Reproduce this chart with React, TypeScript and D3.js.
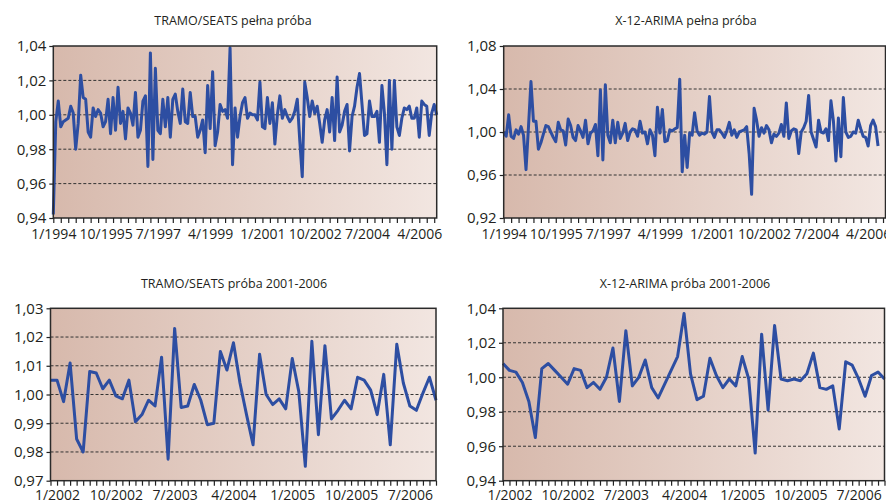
import { useEffect, useRef } from 'react';
import * as d3 from 'd3';

// TRAMO/SEATS, full sample 1/1994 - 11/2006
const tsFull = [
  0.942, 0.996, 1.008, 0.993, 0.996, 0.997, 0.998, 1.005, 1.001, 0.980,
  0.995, 1.023, 1.010, 1.009, 0.990, 0.987, 1.004, 0.999, 1.003, 1.001,
  0.993, 0.996, 1.009, 0.989, 1.010, 0.991, 1.016, 0.995, 1.002, 0.986,
  1.004, 1.001, 0.994, 1.013, 0.987, 0.991, 1.008, 1.011, 0.970, 1.036,
  0.974, 1.027, 0.991, 0.989, 1.009, 0.993, 1.010, 0.987, 1.009, 1.012,
  1.002, 0.995, 1.015, 0.996, 0.995, 1.013, 0.999, 0.999, 0.987, 0.991,
  0.997, 0.978, 1.017, 0.992, 1.025, 0.982, 0.990, 1.006, 1.002, 1.003,
  0.998, 1.039, 0.971, 1.004, 0.987, 0.999, 1.007, 1.010, 0.998, 1.001,
  1.000, 1.000, 0.997, 1.019, 0.993, 0.992, 1.010, 0.995, 1.007, 0.983,
  1.000, 1.011, 0.998, 1.003, 0.999, 0.996, 0.998, 1.002, 1.009, 0.985,
  0.964, 1.019, 1.010, 0.999, 1.008, 1.001, 1.005, 0.995, 0.984, 0.997,
  1.003, 0.990, 1.010, 0.985, 1.022, 0.990, 0.994, 1.002, 1.006, 0.979,
  0.999, 1.005, 1.016, 1.024, 1.006, 0.988, 0.989, 1.008, 0.999, 0.999,
  1.002, 0.984, 1.017, 1.001, 0.971, 1.020, 0.980, 1.020, 0.993, 0.988,
  0.998, 1.004, 1.003, 1.005, 0.998, 0.998, 1.004, 0.987, 1.008, 1.006,
  1.005, 0.988, 1.001, 1.006, 1.000,
];

// X-12-ARIMA, full sample
const x12Full = [
  1.000, 0.996, 1.016, 0.996, 0.994, 1.002, 0.998, 1.005, 0.997, 0.965,
  1.005, 1.047, 1.010, 1.010, 0.984, 0.990, 0.998, 1.006, 1.005, 1.000,
  0.995, 0.991, 1.009, 1.002, 1.001, 0.988, 1.012, 1.006, 0.995, 0.992,
  1.006, 1.001, 0.995, 1.011, 0.989, 0.999, 1.001, 1.007, 0.978, 1.039,
  0.974, 1.044, 0.997, 0.990, 1.011, 0.990, 1.009, 0.994, 0.999, 1.008,
  0.992, 1.000, 1.003, 1.002, 0.996, 1.010, 0.999, 1.000, 0.989, 1.002,
  0.997, 0.978, 1.023, 0.999, 1.021, 0.991, 0.992, 1.002, 1.001, 1.003,
  1.004, 1.049, 0.963, 0.997, 0.967, 0.999, 0.997, 1.018, 1.001, 0.997,
  0.999, 0.998, 1.000, 1.033, 1.000, 0.995, 1.002, 1.002, 0.999, 0.995,
  1.001, 1.009, 0.997, 1.002, 0.995, 1.000, 1.001, 1.002, 1.005, 0.980,
  0.942, 1.022, 1.011, 0.996, 1.004, 0.999, 1.006, 1.002, 0.990, 0.998,
  0.996, 0.999, 1.007, 0.996, 1.027, 0.994, 1.001, 1.003, 1.002, 0.980,
  1.000, 1.004, 1.010, 1.034, 1.000, 0.993, 0.986, 1.011, 1.000, 0.999,
  1.003, 0.992, 1.029, 1.010, 0.973, 1.013, 0.977, 1.032, 1.000, 0.995,
  0.996, 1.000, 0.999, 1.011, 1.003, 0.996, 0.995, 0.987, 1.006, 1.011,
  1.005, 0.987,
];

// TRAMO/SEATS, sample 2001-2006 (12/2001 - 11/2006)
const tsShort = [
  1.005, 1.005, 0.9975, 1.011, 0.9845, 0.980, 1.008, 1.0075, 1.002, 1.005,
  0.9995, 0.9985, 1.005, 0.9905, 0.993, 0.998, 0.996, 1.013, 0.9775, 1.023,
  0.9955, 0.996, 1.0035, 0.998, 0.9895, 0.990, 1.015, 1.0085, 1.018, 1.004,
  0.993, 0.9825, 1.014, 1.000, 0.9965, 0.9985, 0.995, 1.0125, 1.001, 0.975,
  1.0185, 0.986, 1.017, 0.9915, 0.9945, 0.998, 0.995, 1.006, 1.005, 1.0015,
  0.993, 1.007, 0.9825, 1.0175, 1.004, 0.996, 0.9945, 1.0005, 1.006, 0.998,
];

// X-12-ARIMA, sample 2001-2006
const x12Short = [
  1.008, 1.004, 1.003, 0.997, 0.986, 0.965, 1.005, 1.008, 1.004, 1.000,
  0.996, 1.005, 1.004, 0.994, 0.997, 0.993, 1.000, 1.017, 0.986, 1.027,
  0.995, 1.000, 1.010, 0.994, 0.988, 0.996, 1.004, 1.012, 1.037, 1.002,
  0.987, 0.989, 1.011, 1.001, 0.994, 0.999, 0.995, 1.012, 0.999, 0.956,
  1.025, 0.981, 1.030, 0.999, 0.998, 0.999, 0.998, 1.002, 1.014, 0.994,
  0.993, 0.995, 0.970, 1.009, 1.007, 0.999, 0.989, 1.001, 1.003, 0.999,
];

const fullLabels = ['1/1994', '10/1995', '7/1997', '4/1999', '1/2001', '10/2002', '7/2004', '4/2006'];
const shortLabels = ['1/2002', '10/2002', '7/2003', '4/2004', '1/2005', '10/2005', '7/2006'];

const ticksFullL = [0.94, 0.96, 0.98, 1.0, 1.02, 1.04];
const ticksFullR = [0.92, 0.96, 1.0, 1.04, 1.08];
const ticksShortL = [0.97, 0.98, 0.99, 1.0, 1.01, 1.02, 1.03];
const ticksShortR = [0.94, 0.96, 0.98, 1.0, 1.02, 1.04];

const panels = [
  { title: 'TRAMO/SEATS pełna próba', data: tsFull, months: 155, labels: fullLabels, labelStart: 0, labelStep: 21, tickStep: 3,
    yTicks: ticksFullL, box: [53.3, 436.7, 46, 218], titleX: 233, titleY: 25, pad: 6 },
  { title: 'X-12-ARIMA pełna próba', data: x12Full, months: 155, labels: fullLabels, labelStart: 0, labelStep: 21, tickStep: 3,
    yTicks: ticksFullR, box: [503.7, 885.5, 46, 218], titleX: 686, titleY: 25, pad: 6 },
  { title: 'TRAMO/SEATS próba 2001-2006', data: tsShort, months: 60, labels: shortLabels, labelStart: 1, labelStep: 9, tickStep: 1,
    yTicks: ticksShortL, box: [50.5, 436, 308.3, 480.7], titleX: 234, titleY: 287.5, pad: 4.5 },
  { title: 'X-12-ARIMA próba 2001-2006', data: x12Short, months: 60, labels: shortLabels, labelStart: 1, labelStep: 9, tickStep: 1,
    yTicks: ticksShortR, box: [503, 884.5, 308.3, 480.7], titleX: 685, titleY: 287.5, pad: 4.5 },
];

const fmt = (v: number) => d3.format('.2f')(v).replace('.', ',');

const App = () => {
  const svgRef = useRef<SVGSVGElement>(null);

  useEffect(() => {
    const svg = d3.select(svgRef.current);
    svg.selectAll('*').remove();

    const defs = svg.append('defs');
    const grad = defs.append('linearGradient').attr('id', 'bg').attr('x1', 0).attr('x2', 1).attr('y1', 0).attr('y2', 0);
    grad.append('stop').attr('offset', '0%').attr('stop-color', '#d7b9ac');
    grad.append('stop').attr('offset', '100%').attr('stop-color', '#f2e6e1');

    panels.forEach((p, pi) => {
      const [x0, x1, y0, y1] = p.box;
      const x = d3.scaleLinear().domain([0, p.months - 1]).range([x0, x1]);
      const y = d3.scaleLinear().domain([p.yTicks[0], p.yTicks[p.yTicks.length - 1]]).range([y1, y0]);
      const g = svg.append('g').attr('class', 'panel-' + pi);

      g.append('rect')
        .attr('x', x0).attr('y', y0)
        .attr('width', x1 - x0).attr('height', y1 - y0)
        .attr('fill', 'url(#bg)');

      // dashed grid
      g.selectAll('.grid')
        .data(p.yTicks.slice(1, -1))
        .enter().append('line')
        .attr('x1', x0).attr('x2', x1)
        .attr('y1', d => y(d)).attr('y2', d => y(d))
        .attr('stroke', '#333')
        .attr('stroke-width', 1)
        .attr('stroke-dasharray', '3,2');

      const line = d3.line<number>()
        .x((d, i) => x(i))
        .y(d => y(d));

      g.append('path')
        .datum(p.data)
        .attr('fill', 'none')
        .attr('stroke', '#2d4ea2')
        .attr('stroke-width', 3)
        .attr('stroke-linejoin', 'round')
        .attr('d', line);

      g.append('rect')
        .attr('x', x0).attr('y', y0)
        .attr('width', x1 - x0).attr('height', y1 - y0)
        .attr('fill', 'none')
        .attr('stroke', '#2a2a2a')
        .attr('stroke-width', 1.5);

      const yAxis = g.append('g')
        .attr('transform', `translate(${x0},0)`)
        .call(d3.axisLeft(y).tickValues(p.yTicks).tickSize(4).tickPadding(3).tickFormat(d => fmt(+d)));

      const xAxis = g.append('g')
        .attr('transform', `translate(0,${y1})`)
        .call(d3.axisBottom(x)
          .tickValues(d3.range(0, p.months, p.tickStep))
          .tickSize(5)
          .tickPadding(p.pad)
          .tickFormat(d => {
            const k = +d - p.labelStart;
            return k >= 0 && k % p.labelStep === 0 ? (p.labels[k / p.labelStep] ?? '') : '';
          }));

      [yAxis, xAxis].forEach(a => {
        a.select('.domain').remove();
        a.selectAll('line').attr('stroke', '#222').attr('stroke-width', 1.2);
        a.selectAll('text')
          .attr('fill', '#231f20')
          .style('font-family', "'Open Sans', sans-serif");
      });
      yAxis.selectAll('text').style('font-size', '15px');
      xAxis.selectAll('text').style('font-size', '14px');

      g.append('text')
        .attr('x', p.titleX).attr('y', p.titleY)
        .attr('text-anchor', 'middle')
        .attr('fill', '#231f20')
        .style('font-family', "'Open Sans', sans-serif")
        .style('font-size', '12.5px')
        .text(p.title);
    });
  }, []);

  return (
    <div style={{ position: 'absolute', left: 0, top: 0 }}>
      <svg ref={svgRef} width={886} height={503} style={{ display: 'block', background: '#fff' }}></svg>
    </div>
  );
};

export default App;
